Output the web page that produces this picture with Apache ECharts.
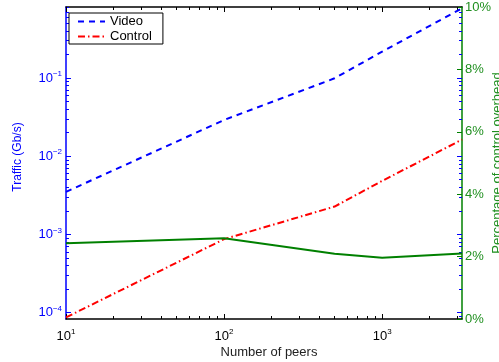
<!DOCTYPE html>
<html>
<head>
<meta charset="utf-8">
<script src="https://cdn.jsdelivr.net/npm/echarts/dist/echarts.min.js"></script>
<style>
  html, body { margin: 0; padding: 0; background: #fff; }
  #main { width: 499px; height: 362px; }
</style>
</head>
<body>
<div id="main"></div>
<script>
// data
var peers    = [10, 100, 500, 1000, 3200];
var video    = [0.0035, 0.029, 0.099, 0.217, 0.776];
var control  = [0.000087, 0.00087, 0.00227, 0.00483, 0.0163];
var overhead = [2.43, 2.59, 2.09, 1.96, 2.10];

// tick positions
var xMajor = [10, 100, 1000];
var xMinor = [20, 30, 40, 50, 60, 70, 80, 90, 200, 300, 400, 500, 600, 700, 800, 900, 2000, 3000];
var yMajor = [1e-4, 1e-3, 1e-2, 1e-1];
var yMinor = [9e-5, 2e-4, 3e-4, 4e-4, 5e-4, 6e-4, 7e-4, 8e-4, 9e-4,
              2e-3, 3e-3, 4e-3, 5e-3, 6e-3, 7e-3, 8e-3, 9e-3,
              2e-2, 3e-2, 4e-2, 5e-2, 6e-2, 7e-2, 8e-2, 9e-2,
              2e-1, 3e-1, 4e-1, 5e-1, 6e-1, 7e-1, 8e-1];
var pctTicks = [0, 2, 4, 6, 8, 10];

var FONT = '"Liberation Sans", Arial, sans-serif';
var BLUE = '#0000ff', RED = '#ff0000', GREEN = '#008000', GTXT = '#1f8f1f';

function pairs(xs, ys){
  var out = [];
  for (var i = 0; i < xs.length; i++) out.push([xs[i], ys[i]]);
  return out;
}

// 10^n as rich text
function powLabel(v){
  var e = Math.round(Math.log(v) / Math.LN10);
  return '{b|10}{s|' + (e < 0 ? '\u2212' + (-e) : e) + '}';
}
function powRich(color){
  return {
    b: {fontSize: 13, color: color, fontFamily: FONT},
    s: {fontSize: 8, color: color, fontFamily: FONT, padding: [0, 0, 8, 0]}
  };
}

function xAx(pos, ticks, len, show){
  return {
    type: 'log', position: pos, min: 10, max: 3200,
    axisLine: {show: show, onZero: false, lineStyle: {color: '#000', width: 1.5}},
    axisTick: {show: true, inside: true, length: len, customValues: ticks, lineStyle: {color: '#000'}},
    axisLabel: {show: false}, splitLine: {show: false}
  };
}
function yLogAx(pos, ticks, len, show){
  return {
    type: 'log', position: pos, min: 0.000083, max: 0.807,
    axisLine: {show: show, onZero: false, lineStyle: {color: BLUE, width: 1.5}},
    axisTick: {show: true, inside: true, length: len, customValues: ticks, lineStyle: {color: BLUE}},
    axisLabel: {show: false}, splitLine: {show: false}
  };
}

var chart = echarts.init(document.getElementById('main'), null, {renderer: 'canvas'});

var xMain = xAx('bottom', xMajor, 5, true);
xMain.axisLabel = {show: true, customValues: xMajor, formatter: powLabel, rich: powRich('#000'), margin: 9};
xMain.name = 'Number of peers';
xMain.nameLocation = 'middle';
xMain.nameGap = 27;
xMain.nameMoveOverlap = false;
xMain.nameTextStyle = {fontSize: 13, color: '#222', fontFamily: FONT, padding: [0, 0, 0, 10]};

var yMain = yLogAx('left', yMajor, 5, true);
yMain.axisLabel = {show: true, customValues: yMajor, formatter: powLabel, rich: powRich(BLUE), margin: 4};
yMain.name = 'Traffic (Gb/s)';
yMain.nameLocation = 'middle';
yMain.nameGap = 42;
yMain.nameMoveOverlap = false;
yMain.nameTextStyle = {fontSize: 12, color: BLUE, fontFamily: FONT, padding: [0, 0, 0, 12]};

var option = {
  animation: false,
  backgroundColor: '#fff',
  grid: {left: 66, right: 37, top: 7, bottom: 43, outerBoundsMode: 'none', containLabel: false},
  legend: {
    left: 69, top: 13, orient: 'vertical',
    data: ['Video', 'Control'],
    backgroundColor: '#fff', borderColor: '#000', borderWidth: 1,
    padding: [2, 11, 1, 8], itemGap: 2, itemWidth: 27, itemHeight: 12,
    itemStyle: {opacity: 0},
    textStyle: {fontSize: 13, color: '#000', fontFamily: FONT}
  },
  xAxis: [
    xMain,
    xAx('bottom', xMinor, 3, false),
    xAx('top', xMajor, 5, true),
    xAx('top', xMinor, 3, false)
  ],
  yAxis: [
    yMain,
    yLogAx('left', yMinor, 3, false),
    yLogAx('right', yMajor, 5, false),
    yLogAx('right', yMinor, 3, false),
    {
      type: 'value', position: 'right', min: 0, max: 10, interval: 2,
      axisLine: {show: true, onZero: false, lineStyle: {color: GREEN, width: 1.5}},
      axisTick: {show: true, inside: true, length: 5, customValues: pctTicks, lineStyle: {color: GREEN}},
      axisLabel: {color: GTXT, fontSize: 13, fontFamily: FONT, formatter: '{value}%', margin: 3},
      splitLine: {show: false},
      name: 'Percentage of control overhead', nameLocation: 'middle', nameGap: 29, nameRotate: 90,
      nameMoveOverlap: false,
      nameTextStyle: {fontSize: 13, color: GTXT, fontFamily: FONT}
    }
  ],
  series: [
    {
      name: 'Video', type: 'line', xAxisIndex: 0, yAxisIndex: 0,
      data: pairs(peers, video), symbol: 'none',
      lineStyle: {color: BLUE, width: 2, type: [6, 5]}, itemStyle: {color: BLUE}
    },
    {
      name: 'Control', type: 'line', xAxisIndex: 0, yAxisIndex: 0,
      data: pairs(peers, control), symbol: 'none',
      lineStyle: {color: RED, width: 2, type: [7, 3, 1.5, 3]}, itemStyle: {color: RED}
    },
    {
      name: 'Overhead', type: 'line', xAxisIndex: 0, yAxisIndex: 4,
      data: pairs(peers, overhead), symbol: 'none',
      lineStyle: {color: GREEN, width: 2}, itemStyle: {color: GREEN}
    }
  ]
};
chart.setOption(option);
</script>
</body>
</html>
